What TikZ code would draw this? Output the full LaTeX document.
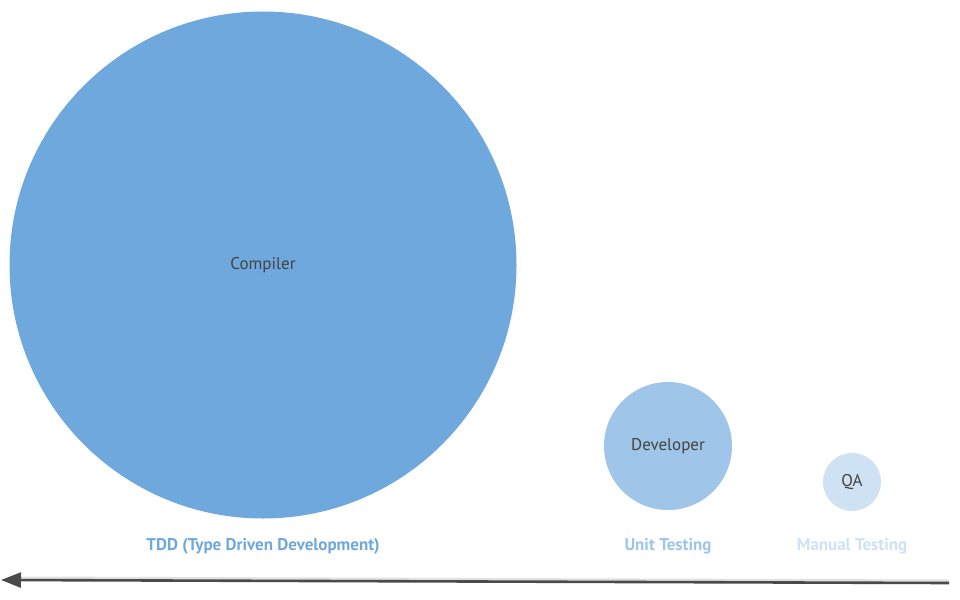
\documentclass[tikz,border=0pt]{standalone}
\usepackage{fontspec}
\setmainfont{PT Sans}
\usetikzlibrary{arrows.meta,shadows}
\definecolor{cbig}{HTML}{6FA8DC}
\definecolor{cmid}{HTML}{9FC5E8}
\definecolor{csmall}{HTML}{CFE2F3}
\definecolor{ctext}{HTML}{434343}
\definecolor{carrow}{HTML}{4A4A4A}
\begin{document}
\begin{tikzpicture}[x=1pt,y=-1pt,
  bubble/.style={circle,inner sep=0pt,text=ctext,font=\fontsize{17}{20}\selectfont},
  caption/.style={font=\bfseries\fontsize{17}{20}\selectfont,inner sep=0pt},
  timeline/.style={draw=carrow,line width=2.6pt,-{Triangle[length=20pt,width=15pt]}}]
\useasboundingbox[fill=white] (0,0) rectangle (960,599);
\node[bubble,fill=cbig,minimum size=507pt] (compiler) at (263,265) {Compiler};
\node[bubble,fill=cmid,minimum size=128pt] (developer) at (668,446) {Developer};
\node[bubble,fill=csmall,minimum size=58pt] (qa) at (852,482) {QA};
\node[caption,text=cbig] (tdd) at (263,546) {TDD (Type Driven Development)};
\node[caption,text=cmid] (unit) at (668,546) {Unit Testing};
\node[caption,text=csmall] (manual) at (852,546) {Manual Testing};
\coordinate (tright) at (949,583);
\coordinate (tleft) at (1,580);
\draw[draw=black!12,line width=3pt] ([yshift=2pt]tright) -- ([xshift=20pt,yshift=2pt]tleft);
\draw[timeline] (tright) -- (tleft);
\end{tikzpicture}
\end{document}
